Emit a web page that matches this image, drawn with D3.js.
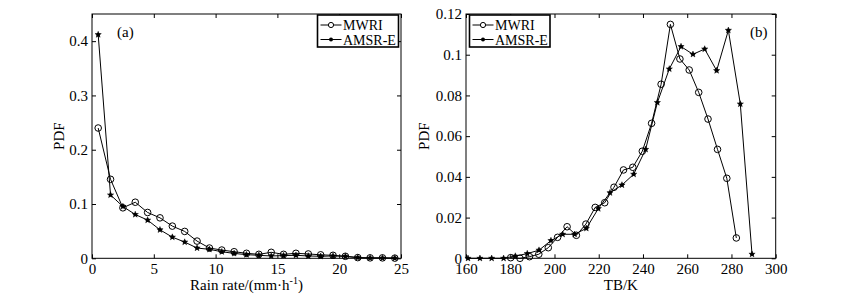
<!DOCTYPE html>
<html><head><meta charset="utf-8">
<script src="https://cdn.jsdelivr.net/npm/d3@7"></script>
<style>
body{margin:0;background:#fff}
svg text{font-family:"Liberation Serif","Times New Roman",serif;fill:#000}
</style></head>
<body><svg id="c" width="859" height="301"></svg>
<script>
// ---- Panel (a): rain rate PDF ----
const rainX = [0.5,1.5,2.5,3.5,4.5,5.5,6.5,7.5,8.5,9.5,10.5,11.5,12.5,13.5,14.5,15.5,16.5,17.5,18.5,19.5,20.5,21.5,22.5,23.5,24.5];
const rainMWRI = [0.240,0.1455,0.093,0.1033,0.0844,0.0745,0.0593,0.0495,0.0317,0.0189,0.0152,0.0121,0.0092,0.0073,0.011,0.0073,0.0092,0.008,0.0064,0.0055,0.0037,0.0013,0.0008,0.0008,0.0003];
const rainAMSR = [0.412,0.1167,0.0954,0.0807,0.0703,0.0525,0.039,0.0299,0.0189,0.0165,0.0121,0.009,0.0067,0.0055,0.0043,0.005,0.0055,0.0043,0.0037,0.0043,0.0037,0.0013,0.0005,0.0005,0.0003];
const rainXTicks = [0,5,10,15,20,25];
const rainYTicks = [0,0.1,0.2,0.3,0.4];

// ---- Panel (b): TB PDF ----
const tbXMWRI = [180.2,184.4,188.7,192.9,197.2,201.4,205.7,209.9,214.2,218.4,222.7,226.9,231.2,235.4,239.7,243.9,248.2,252.4,256.7,260.9,265.2,269.4,273.7,277.9,282.2];
const tbMWRI = [0.0003,0,0.0008,0.002,0.0052,0.0103,0.0155,0.0113,0.0168,0.025,0.0273,0.0349,0.0434,0.0447,0.0526,0.0663,0.0855,0.1149,0.0979,0.0925,0.0815,0.0684,0.0535,0.0393,0.010];
const tbXAMSR = [160.9,166.3,171.6,177.0,182.3,187.7,193.0,198.4,203.7,209.1,214.4,219.8,225.1,230.5,235.8,241.2,246.5,251.9,257.2,262.6,267.9,273.3,278.6,284.0,289.3];
const tbAMSR = [0,0,0,0,0.0011,0.0023,0.004,0.0087,0.0118,0.0118,0.0147,0.0244,0.0322,0.036,0.0413,0.0535,0.0765,0.093,0.104,0.1002,0.1028,0.0922,0.112,0.0758,0.002];
const tbXTicks = [160,180,200,220,240,260,280,300];
const tbYTicks = [0,0.02,0.04,0.06,0.08,0.1,0.12];

const seriesNames = ["MWRI","AMSR-E"];

const svg = d3.select("#c");
const FS = 15;

function star(sel, size){
  sel.append("path").attr("d",d3.symbol(d3.symbolStar).size(size)).attr("fill","#000").attr("stroke","#000").attr("stroke-width",0.5);
  sel.append("circle").attr("r",1.8).attr("fill","#000");
}

function panel(o){
  const x = d3.scaleLinear().domain(o.xDom).range([o.x0, o.x1]);
  const y = d3.scaleLinear().domain(o.yDom).range([o.y1, o.y0]);
  const g = svg.append("g");
  const fmt = d3.format("~g");

  const styleAxis = sel => {
    sel.select(".domain").remove();
    sel.selectAll(".tick line").attr("stroke","#000").attr("stroke-width",1);
    sel.selectAll(".tick text").attr("font-size",FS).attr("font-family",'"Liberation Serif","Times New Roman",serif');
  };
  g.append("g").attr("transform",`translate(0,${o.y1})`)
    .call(d3.axisBottom(x).tickValues(o.xTicks).tickFormat(fmt).tickSizeInner(-4).tickSizeOuter(0).tickPadding(5.5)).call(styleAxis);
  g.append("g").attr("transform",`translate(0,${o.y0})`)
    .call(d3.axisTop(x).tickValues(o.xTicks).tickFormat("").tickSizeInner(-4).tickSizeOuter(0)).call(styleAxis);
  g.append("g").attr("transform",`translate(${o.x0},0)`)
    .call(d3.axisLeft(y).tickValues(o.yTicks).tickFormat(fmt).tickSizeInner(-4).tickSizeOuter(0).tickPadding(4)).call(styleAxis);
  g.append("g").attr("transform",`translate(${o.x1},0)`)
    .call(d3.axisRight(y).tickValues(o.yTicks).tickFormat("").tickSizeInner(-4).tickSizeOuter(0)).call(styleAxis);

  g.append("rect").attr("x",o.x0).attr("y",o.y0).attr("width",o.x1-o.x0).attr("height",o.y1-o.y0)
    .attr("fill","none").attr("stroke","#000").attr("stroke-width",1);

  const line = d3.line().x(d=>x(d[0])).y(d=>y(d[1]));
  const s1 = o.xs1.map((v,i)=>[v,o.ys1[i]]);
  const s2 = o.xs2.map((v,i)=>[v,o.ys2[i]]);
  g.append("path").attr("d",line(s2)).attr("fill","none").attr("stroke","#000").attr("stroke-width",1);
  g.append("path").attr("d",line(s1)).attr("fill","none").attr("stroke","#000").attr("stroke-width",1);
  g.selectAll(".m2").data(s2).enter().append("g")
    .attr("transform",d=>`translate(${x(d[0])},${y(d[1])})`)
    .each(function(){ star(d3.select(this), 12); });
  g.selectAll(".m1").data(s1).enter().append("circle")
    .attr("cx",d=>x(d[0])).attr("cy",d=>y(d[1])).attr("r",3.3)
    .attr("fill","none").attr("stroke","#000").attr("stroke-width",1);

  // panel tag
  g.append("text").attr("x",o.tagX).attr("y",o.tagY).attr("font-size",FS).text(o.tag);

  // axis labels
  g.append("text").attr("transform",`translate(${o.ylabX},${(o.y0+o.y1)/2}) rotate(-90)`)
    .attr("text-anchor","middle").attr("font-size",FS).text("PDF");
  const xl = g.append("text").attr("x",(o.x0+o.x1)/2).attr("y",290).attr("text-anchor","middle").attr("font-size",FS);
  o.xlab(xl);

  // legend
  const L = o.leg;
  g.append("rect").attr("x",L.x).attr("y",L.y).attr("width",L.w).attr("height",L.h)
    .attr("fill","#fff").attr("stroke","#000").attr("stroke-width",1.6);
  const rows = [L.y+10, L.y+24.5];
  seriesNames.forEach((name,i)=>{
    const ry = rows[i];
    g.append("line").attr("x1",L.x+3).attr("x2",L.x+L.lw).attr("y1",ry).attr("y2",ry).attr("stroke","#000").attr("stroke-width",1);
    const mx = L.x+3+(L.lw-3)/2;
    if(i===0) g.append("circle").attr("cx",mx).attr("cy",ry).attr("r",2.6).attr("fill","#fff").attr("stroke","#000");
    else g.append("circle").attr("cx",mx).attr("cy",ry).attr("r",2).attr("fill","#000");
    g.append("text").attr("x",L.x+L.lw+1.5).attr("y",ry+5).attr("font-size",14).text(name);
  });
}

panel({
  x0:92, x1:401, y0:14, y1:258.3,
  xDom:[0,25], yDom:[0,0.45],
  xTicks:rainXTicks, yTicks:rainYTicks,
  xs1:rainX, ys1:rainMWRI, xs2:rainX, ys2:rainAMSR,
  tag:"(a)", tagX:117, tagY:37,
  ylabX:64,
  xlab: t => { t.append("tspan").text("Rain rate/(mm·h");
               t.append("tspan").attr("dy",-6).attr("font-size",10).text("-1");
               t.append("tspan").attr("dy",6).text(")"); },
  leg:{x:317.5, y:15, w:81, h:32, lw:24}
});

panel({
  x0:466, x1:775.7, y0:14, y1:258.3,
  xDom:[160,300], yDom:[0,0.12],
  xTicks:tbXTicks, yTicks:tbYTicks,
  xs1:tbXMWRI, ys1:tbMWRI, xs2:tbXAMSR, ys2:tbAMSR,
  tag:"(b)", tagX:750, tagY:37,
  ylabX:429,
  xlab: t => t.text("TB/K"),
  leg:{x:469.5, y:15, w:80.5, h:32, lw:24}
});
</script>
</body></html>
